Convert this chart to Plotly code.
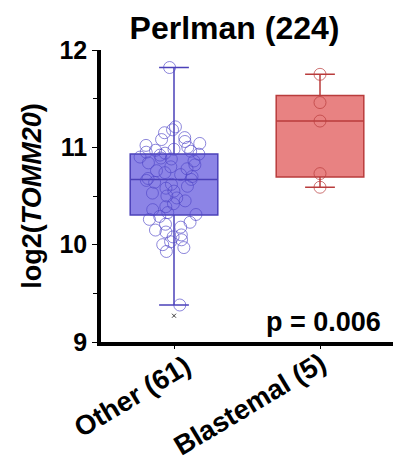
import plotly.graph_objects as go

categories = ["Other (61)", "Blastemal (5)"]

other_values = [
    9.38, 9.93, 9.97, 10.00, 10.03, 10.05, 10.08, 10.10, 10.13, 10.15, 10.18, 10.21, 10.23, 10.26, 10.29,
    10.31,
    10.33, 10.36, 10.39, 10.42, 10.45, 10.48, 10.50, 10.53, 10.55, 10.58, 10.60, 10.62, 10.64, 10.66,
    10.67,
    10.68, 10.70, 10.72, 10.74, 10.76, 10.78, 10.80, 10.82, 10.84, 10.86, 10.88, 10.89, 10.90, 10.92,
    10.93,
    10.94, 10.95, 10.96, 10.97, 10.98, 11.00, 11.02, 11.04, 11.06, 11.08, 11.10, 11.15, 11.18, 11.21, 11.82,
]
blastemal_values = [10.59, 10.73, 11.27, 11.46, 11.75]
other_outlier = [9.27]

y_ticks = [9, 10, 11, 12]
p_text = "p = 0.006"

FONT = "Liberation Sans, Arial, sans-serif"
L, R, T, B = 101, 13, 50, 121

fig = go.Figure()
fig.add_trace(go.Box(
    y=other_values, x=[categories[0]] * len(other_values),
    name=categories[0], boxpoints="all", jitter=0.85, pointpos=0,
    fillcolor="rgba(95,85,220,0.72)", line=dict(color="rgb(75,65,185)", width=1.5),
    marker=dict(symbol="circle-open", size=12, color="rgba(80,70,200,0.65)", line=dict(width=1)),
    width=0.6, whiskerwidth=0.34, quartilemethod="linear", showlegend=False,
))
fig.add_trace(go.Box(
    y=blastemal_values, x=[categories[1]] * len(blastemal_values),
    name=categories[1], boxpoints="all", jitter=0, pointpos=0,
    fillcolor="rgba(225,95,95,0.78)", line=dict(color="rgb(185,60,60)", width=1.5),
    marker=dict(symbol="circle-open", size=12, color="rgba(185,60,60,0.7)", line=dict(width=1)),
    width=0.6, whiskerwidth=0.34, quartilemethod="linear", showlegend=False,
))
fig.add_trace(go.Scatter(
    x=[categories[0]] * len(other_outlier), y=other_outlier, mode="markers",
    marker=dict(symbol="x-thin", size=4, line=dict(width=1, color="rgb(60,60,60)")),
    showlegend=False, hoverinfo="skip",
))

fig.update_layout(
    width=406, height=463,
    margin=dict(l=L, r=R, t=T, b=B),
    paper_bgcolor="white", plot_bgcolor="white",
    font=dict(family=FONT, color="black"),
    title=dict(text="<b>Perlman (224)</b>", x=234.5 / 406, xref="container", xanchor="center",
               y=1 - 28 / 463, yref="container", yanchor="middle",
               font=dict(size=32, family=FONT, color="black")),
    xaxis=dict(type="category", categoryorder="array", categoryarray=categories,
               range=[-0.5, 1.5], showline=True, linecolor="black", linewidth=3.5,
               ticks="outside", ticklen=3, tickwidth=1, tickcolor="black",
               showticklabels=False, showgrid=False, zeroline=False),
    yaxis=dict(range=[9, 12], tickvals=y_ticks, showline=True, linecolor="black", linewidth=3.5,
               ticks="outside", ticklen=5, tickwidth=1, tickcolor="black",
               minor=dict(dtick=0.5, ticks="outside", ticklen=4, tickcolor="black"),
               showgrid=False, zeroline=False,
               tickfont=dict(size=25, family=FONT, color="black", weight="bold"),
               title=dict(text="<b>log2(<i>TOMM20</i>)</b>", standoff=11,
                          font=dict(size=27, family=FONT, color="black"))),
)

# rotated category labels
label_shifts = [(-42, -54), (-71, -62)]
for cat, (dx, dy) in zip(categories, label_shifts):
    fig.add_annotation(text="<b>" + cat + "</b>", xref="x", yref="paper", x=cat, y=0,
                       xanchor="center", yanchor="middle", xshift=dx, yshift=dy,
                       textangle=-31, showarrow=False, borderpad=0,
                       font=dict(size=27.5, family=FONT, color="black"))

fig.add_annotation(text="<b>" + p_text + "</b>", xref="paper", yref="paper",
                   x=0.965, y=0.068, xanchor="right", yanchor="middle", showarrow=False,
                   font=dict(size=27, family=FONT, color="black"))

fig.write_html("out.html")
